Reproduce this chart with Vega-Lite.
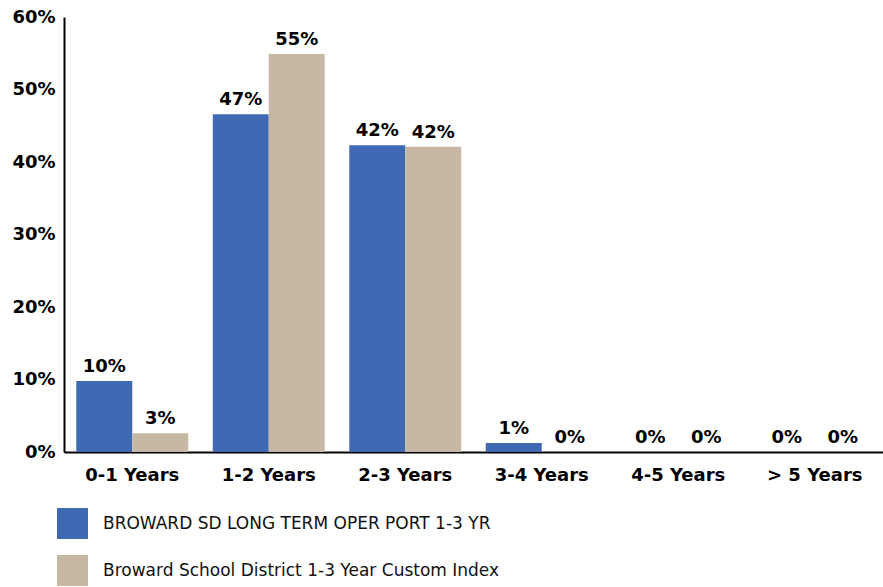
{
  "$schema": "https://vega.github.io/schema/vega-lite/v6.json",
  "width": 819,
  "height": 435,
  "autosize": "none",
  "padding": {"left": 64, "top": 17, "right": 0, "bottom": 135},
  "background": "white",
  "config": {
    "view": {"stroke": null},
    "font": "DejaVu Sans"
  },
  "data": {
    "values": [
      {"cat": "0-1 Years", "series": "BROWARD SD LONG TERM OPER PORT 1-3 YR", "value": 0.098},
      {"cat": "0-1 Years", "series": "Broward School District 1-3 Year Custom Index", "value": 0.026},
      {"cat": "1-2 Years", "series": "BROWARD SD LONG TERM OPER PORT 1-3 YR", "value": 0.466},
      {"cat": "1-2 Years", "series": "Broward School District 1-3 Year Custom Index", "value": 0.549},
      {"cat": "2-3 Years", "series": "BROWARD SD LONG TERM OPER PORT 1-3 YR", "value": 0.423},
      {"cat": "2-3 Years", "series": "Broward School District 1-3 Year Custom Index", "value": 0.421},
      {"cat": "3-4 Years", "series": "BROWARD SD LONG TERM OPER PORT 1-3 YR", "value": 0.0124},
      {"cat": "3-4 Years", "series": "Broward School District 1-3 Year Custom Index", "value": 0},
      {"cat": "4-5 Years", "series": "BROWARD SD LONG TERM OPER PORT 1-3 YR", "value": 0},
      {"cat": "4-5 Years", "series": "Broward School District 1-3 Year Custom Index", "value": 0},
      {"cat": "> 5 Years", "series": "BROWARD SD LONG TERM OPER PORT 1-3 YR", "value": 0},
      {"cat": "> 5 Years", "series": "Broward School District 1-3 Year Custom Index", "value": 0}
    ]
  },
  "encoding": {
    "x": {
      "field": "cat", "type": "nominal", "sort": null,
      "scale": {"paddingInner": 0.18, "paddingOuter": 0.09},
      "axis": {
        "title": null, "labelAngle": 0, "ticks": false,
        "domainColor": "#000", "domainWidth": 2,
        "labelFont": "DejaVu Sans", "labelFontSize": 18, "labelFontWeight": "bold",
        "labelColor": "#000", "labelPadding": 14
      }
    },
    "xOffset": {
      "field": "series", "type": "nominal", "sort": null,
      "scale": {"paddingInner": 0, "paddingOuter": 0}
    },
    "y": {
      "field": "value", "type": "quantitative",
      "scale": {"domain": [0, 0.6], "nice": false},
      "axis": {
        "title": null, "format": ".0%", "values": [0, 0.1, 0.2, 0.3, 0.4, 0.5, 0.6],
        "grid": false, "ticks": false,
        "domainColor": "#000", "domainWidth": 2,
        "labelFont": "DejaVu Sans", "labelFontSize": 18, "labelFontWeight": "bold",
        "labelColor": "#000", "labelPadding": 9
      }
    }
  },
  "layer": [
    {
      "mark": {"type": "bar"},
      "encoding": {
        "color": {
          "field": "series", "type": "nominal", "sort": null,
          "scale": {"range": ["#3F69B2", "#C7B8A3"]},
          "legend": {
            "title": null, "orient": "none", "legendX": -7, "legendY": 491,
            "symbolType": "square", "symbolSize": 961, "symbolStrokeWidth": 0,
            "symbolOpacity": 1,
            "labelFont": "DejaVu Sans", "labelFontSize": 17, "labelColor": "#111",
            "labelOffset": 15, "rowPadding": 16, "labelLimit": 600
          }
        }
      }
    },
    {
      "mark": {"type": "text", "dy": -9, "baseline": "alphabetic", "font": "DejaVu Sans", "fontSize": 18, "fontWeight": "bold", "color": "#000"},
      "encoding": {
        "text": {"field": "value", "type": "quantitative", "format": ".0%"}
      }
    }
  ]
}
